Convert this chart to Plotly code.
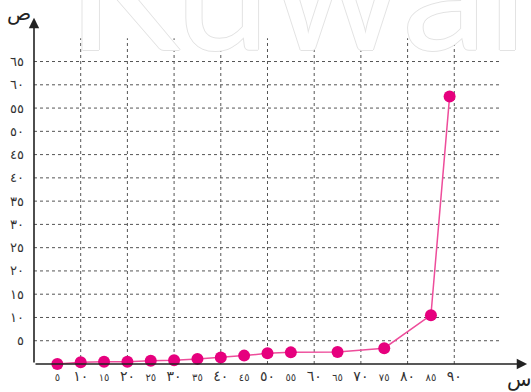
import plotly.graph_objects as go

# ── Data ───────────────────────────────────────────────────────────────────
x_values = [5, 10, 15, 20, 25, 30, 35, 40, 45, 50, 55, 65, 75, 85, 89]
y_values = [0, 0.4, 0.5, 0.5, 0.7, 0.8, 1.1, 1.4, 1.8, 2.3, 2.5, 2.6, 3.4, 10.5, 57.5]

x_tick_vals = [5, 10, 15, 20, 25, 30, 35, 40, 45, 50, 55, 60, 65, 70, 75, 80, 85, 90]
x_tick_text = ["٥", "١٠", "١٥", "٢٠", "٢٥", "٣٠", "٣٥", "٤٠", "٤٥",
               "٥٠", "٥٥", "٦٠", "٦٥", "٧٠", "٧٥", "٨٠", "٨٥", "٩٠"]
y_tick_vals = [5, 10, 15, 20, 25, 30, 35, 40, 45, 50, 55, 60, 65]
y_tick_text = ["٥", "١٠", "١٥", "٢٠", "٢٥", "٣٠", "٣٥", "٤٠", "٤٥",
               "٥٠", "٥٥", "٦٠", "٦٥"]

# ── Style ──────────────────────────────────────────────────────────────────
MARKER = "#E6007E"
LINE = "#EE4D9B"
GRID = "#555555"
AXIS = "#222222"
FONT = "DejaVu Sans"
X_MAX, Y_MAX = 106, 75
W, H = 531, 392
L, R, T, B = 34, 2, 15, 28


def paper(px, py):
    """pixel position in the figure -> paper coordinates of the plot area"""
    return (px - L) / (W - L - R), (H - B - py) / (H - T - B)


# multiples of ten are printed larger than the in-between labels
x_labels = [
    f'<span style="font-size:14px">{t}</span>' if v % 10 == 0
    else f'<span style="font-size:10px">{t}</span>'
    for v, t in zip(x_tick_vals, x_tick_text)
]

fig = go.Figure(
    go.Scatter(
        x=x_values,
        y=y_values,
        mode="lines+markers",
        line=dict(color=LINE, width=1.5),
        marker=dict(color=MARKER, size=12),
        cliponaxis=False,
        hoverinfo="skip",
    )
)

# dotted grid: vertical every 10 up to 70, horizontal every 5 out to 100
shapes = []
for v in x_tick_vals:
    if v % 10 == 0:
        shapes.append(dict(type="line", x0=v, x1=v, y0=0, y1=70, xref="x", yref="y",
                           line=dict(color=GRID, width=1, dash="dot"), layer="below"))
for v in y_tick_vals:
    shapes.append(dict(type="line", x0=0, x1=100, y0=v, y1=v, xref="x", yref="y",
                       line=dict(color=GRID, width=1, dash="dot"), layer="below"))

sx, sy = paper(19, 13)
ex, ey = paper(519, 379)
wx, wy = paper(65, 88)
annotations = [
    # faint watermark
    dict(x=wx, y=wy, xref="paper", yref="paper", text="Kuwait",
         xanchor="left", yanchor="bottom", showarrow=False,
         font=dict(family="Lato", size=170, color="#ffffff",
                   shadow="1px 0 #e3e3e3, -1px 0 #e3e3e3, 0 1px #e3e3e3, 0 -1px #e3e3e3")),
    # axes with arrow heads
    dict(x=X_MAX - 0.4, y=0, ax=0, ay=0, xref="x", yref="y", axref="x", ayref="y",
         text="", showarrow=True, arrowhead=2, arrowsize=1.3, arrowwidth=1.6,
         arrowcolor=AXIS),
    dict(x=0, y=Y_MAX - 0.6, ax=0, ay=0, xref="x", yref="y", axref="x", ayref="y",
         text="", showarrow=True, arrowhead=2, arrowsize=1.3, arrowwidth=1.6,
         arrowcolor=AXIS),
    # axis names
    dict(x=sx, y=sy, xref="paper", yref="paper", text="ص",
         xanchor="center", yanchor="middle",
         showarrow=False, font=dict(family=FONT, size=20, color=AXIS)),
    dict(x=ex, y=ey, xref="paper", yref="paper", text="س",
         xanchor="center", yanchor="middle",
         showarrow=False, font=dict(family=FONT, size=20, color=AXIS)),
]

fig.update_layout(
    width=W,
    height=H,
    margin=dict(l=L, r=R, t=T, b=B),
    plot_bgcolor="white",
    paper_bgcolor="white",
    showlegend=False,
    font=dict(family=FONT, color="#333333"),
    shapes=shapes,
    annotations=annotations,
    xaxis=dict(range=[0, X_MAX], showgrid=False, zeroline=False, showline=False,
               tickvals=x_tick_vals, ticktext=x_labels, ticks="",
               ticklabelstandoff=4, tickangle=0, automargin=False),
    yaxis=dict(range=[0, Y_MAX], showgrid=False, zeroline=False, showline=False,
               tickvals=y_tick_vals, ticktext=y_tick_text, ticks="",
               ticklabelstandoff=9, tickfont=dict(size=13), automargin=False),
)

# the page's default body margin would push the figure 8px in
fig.write_html("out.html", config={"displayModeBar": False},
               post_script="document.body.style.margin = '0';")
